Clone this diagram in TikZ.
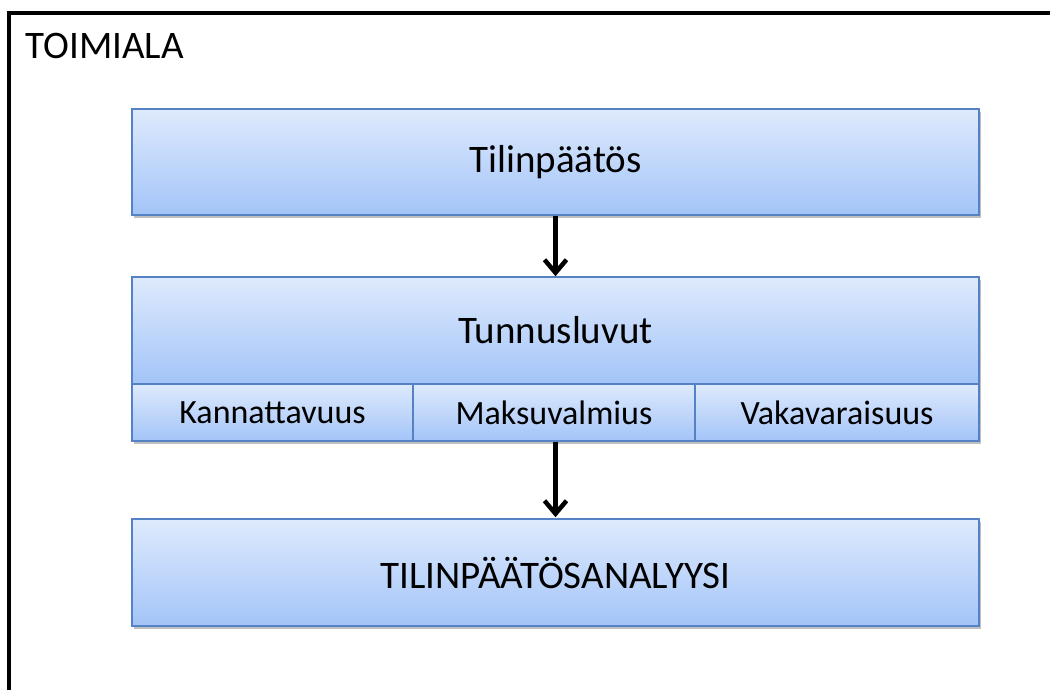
\documentclass[tikz,border=0pt]{standalone}
\usepackage{fontspec}
\setmainfont{Carlito}
\usetikzlibrary{shadows,arrows.meta}
\definecolor{boxtop}{RGB}{222,234,253}
\definecolor{boxbot}{RGB}{163,196,248}
\definecolor{boxline}{RGB}{84,130,196}
\tikzset{
  bluebox/.style={draw=boxline, line width=1.6pt, top color=boxtop, bottom color=boxbot,
    drop shadow={shadow xshift=2pt, shadow yshift=-3pt, opacity=0.25, fill=black},
    inner sep=0pt, align=center},
  bigtext/.style={font=\fontsize{39}{44}\selectfont},
  smalltext/.style={font=\fontsize{34}{38}\selectfont},
  flowarrow/.style={line width=4.5pt, -{Straight Barb[length=13pt,width=22pt,line width=4.5pt]}}
}
\begin{document}
\begin{tikzpicture}[x=1pt,y=-1pt]
\useasboundingbox (0,0) rectangle (1050,690);
\clip (0,0) rectangle (1050,690);
\fill[white] (0,0) rectangle (1050,690);
\draw[line width=4pt] (9,13) rectangle (1080,720);
\node[bigtext, anchor=west] (toimiala) at (22,46) {TOIMIALA};

\node[bluebox, bigtext, minimum width=847pt, minimum height=106pt] (tp) at (555.5,162) {Tilinpäätös};
\node[bluebox, bigtext, minimum width=847pt, minimum height=107pt] (tun) at (555.5,330.5) {Tunnusluvut};
\node[bluebox, smalltext, minimum width=281pt, minimum height=57pt] (kan) at (272.5,412.5) {Kannattavuus};
\node[bluebox, smalltext, minimum width=282pt, minimum height=57pt] (mak) at (554,412.5) {Maksuvalmius};
\node[bluebox, smalltext, minimum width=284pt, minimum height=57pt] (vak) at (837,412.5) {Vakavaraisuus};
\node[bluebox, bigtext, minimum width=847pt, minimum height=107pt] (ana) at (555.5,572.5) {TILINPÄÄTÖSANALYYSI};

\draw[flowarrow] (tp.south) -- (tun.north);
\draw[flowarrow] (mak.south -| ana.north) -- ([yshift=1pt]ana.north);
\end{tikzpicture}
\end{document}
